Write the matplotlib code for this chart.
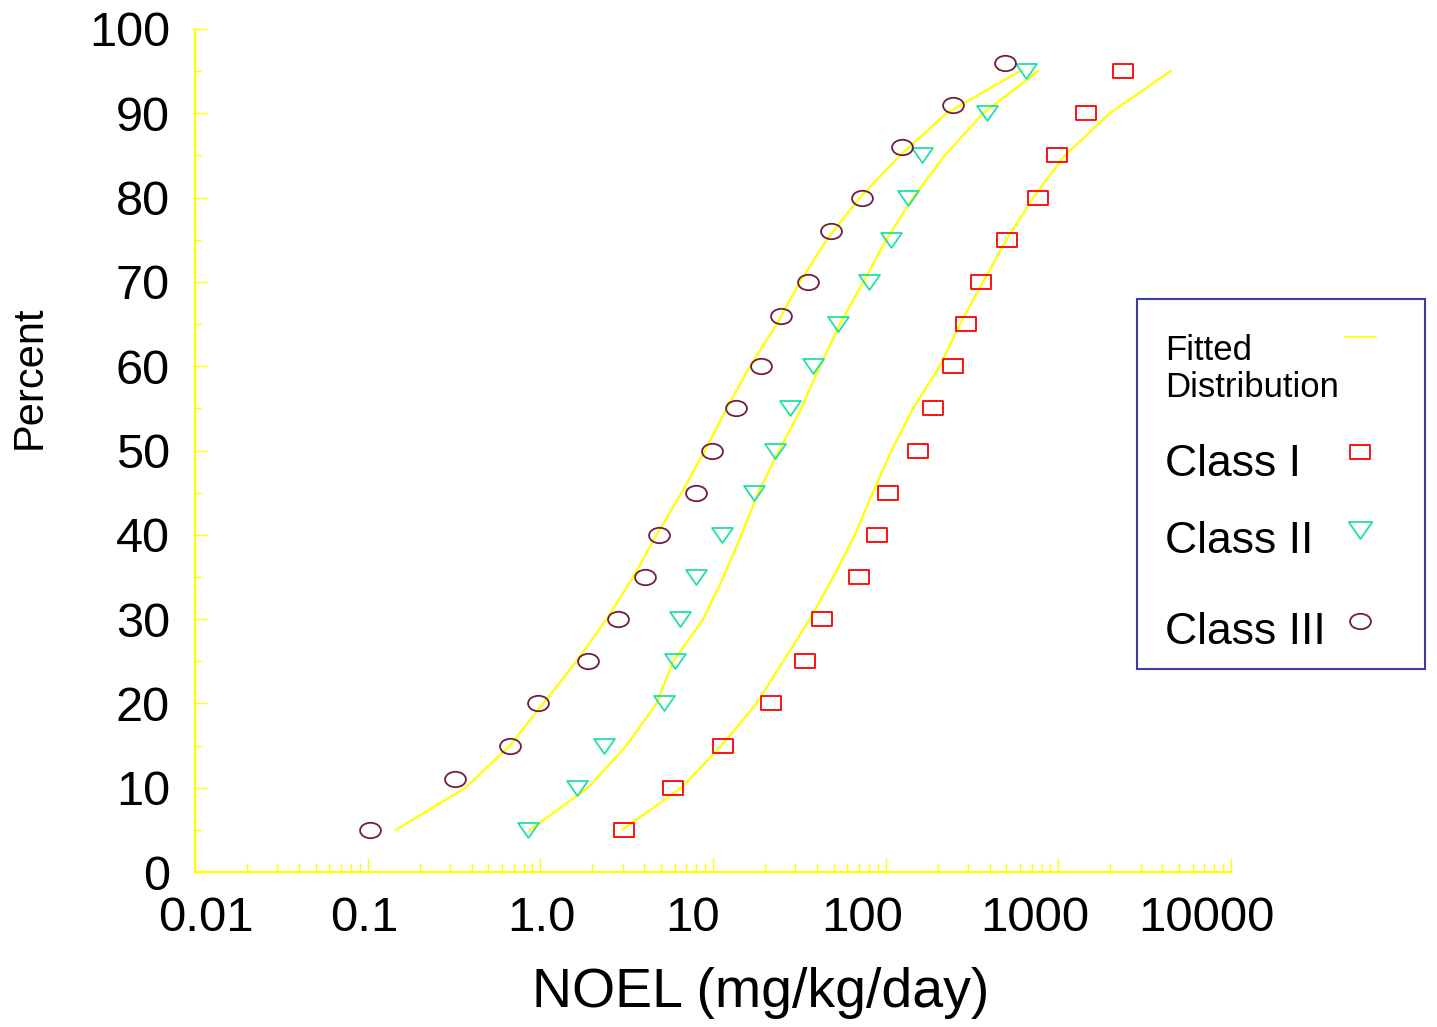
import numpy as np
import matplotlib
matplotlib.use("Agg")
import matplotlib.pyplot as plt
from matplotlib.path import Path
from matplotlib.lines import Line2D
from matplotlib.patches import Rectangle
from matplotlib.transforms import ScaledTranslation
from matplotlib.ticker import LogLocator, FixedLocator, FixedFormatter, NullFormatter, MultipleLocator

plt.rcParams['font.family'] = ['Liberation Sans', 'DejaVu Sans']

# ---------------- data ----------------
# Class I (squares)
class1_x = [3.06, 5.84, 11.4, 21.7, 34.1, 42.9, 70.0, 88.9, 103, 153, 188, 246, 292, 357, 505, 758, 984, 1437, 2372]
class1_y = [5, 10, 15, 20, 25, 30, 35, 40, 45, 50, 55, 60, 65, 70, 75, 80, 85, 90, 95]
# Class II (triangles)
class2_x = [0.844, 1.64, 2.34, 5.18, 6.02, 6.43, 7.96, 11.3, 17.2, 22.8, 27.9, 37.7, 53.1, 79.9, 107, 134, 163, 387, 646]
class2_y = [5, 10, 15, 20, 25, 30, 35, 40, 45, 50, 55, 60, 65, 70, 75, 80, 85, 90, 95]
# Class III (circles)
class3_x = [0.103, 0.320, 0.667, 0.965, 1.89, 2.80, 4.03, 4.86, 7.96, 9.81, 13.5, 18.9, 24.7, 35.3, 48.0, 72.5, 124, 244, 490]
class3_y = [5, 11, 15, 20, 25, 30, 35, 40, 45, 50, 55, 60, 66, 70, 76, 80, 86, 91, 96]

# Fitted distributions (percent levels)
fit_p = [5, 10, 15, 20, 25, 30, 35, 40, 45, 50, 55, 60, 65, 70, 75, 80, 85, 90, 95]
fit1_x = [2.98, 6.58, 11.2, 17.9, 25.5, 36.4, 49.7, 66.3, 84.3, 108, 144, 206, 269, 367, 501, 715, 1090, 1987, 4464]
fit2_x = [0.871, 1.89, 3.16, 4.71, 5.88, 8.78, 11.5, 14.6, 18.3, 24.1, 32.5, 41.6, 54.3, 74.1, 101, 144, 220, 367, 764]
fit3_x = [0.146, 0.369, 0.667, 1.04, 1.62, 2.42, 3.45, 4.71, 6.58, 8.98, 12.0, 16.4, 23.4, 31.9, 45.5, 70.9, 121, 225, 598]

x_ticks = [0.01, 0.1, 1.0, 10, 100, 1000, 10000]
x_tick_labels = ['0.01', '0.1', '1.0', '10', '100', '1000', '10000']
y_ticks = [0, 10, 20, 30, 40, 50, 60, 70, 80, 90, 100]

legend_labels = ['Fitted\nDistribution', 'Class I', 'Class II', 'Class III']

# ---------------- style ----------------
W, H = 1437, 1027
YEL = '#FFFF00'
RED = '#FF0000'
GRN = '#1FE0A8'
MAR = '#6E1E44'
BLUE = '#3C3CA6'

rect_m = Path([(-1, -0.72), (1, -0.72), (1, 0.72), (-1, 0.72), (-1, -0.72)],
              [Path.MOVETO, Path.LINETO, Path.LINETO, Path.LINETO, Path.CLOSEPOLY])
tri_m = Path([(-1, 0.72), (1, 0.72), (0, -0.72), (-1, 0.72)],
             [Path.MOVETO, Path.LINETO, Path.LINETO, Path.CLOSEPOLY])
uc = Path.unit_circle()
ell_m = Path(uc.vertices * np.array([1.0, 0.74]), uc.codes)

MS = 15.0
MEW = 1.3

fig = plt.figure(figsize=(W / 100, H / 100), dpi=100)
fig.patch.set_facecolor('white')
ax = fig.add_axes([195 / W, 1 - 872 / H, (1231 - 195) / W, (872 - 29) / H])

ax.plot(fit1_x, fit_p, color=YEL, lw=1.6, zorder=2)
ax.plot(fit2_x, fit_p, color=YEL, lw=1.6, zorder=2)
ax.plot(fit3_x, fit_p, color=YEL, lw=1.6, zorder=2)

ax.plot(class1_x, class1_y, ls='none', marker=rect_m, ms=MS, mfc='none', mec=RED, mew=MEW, zorder=3)
ax.plot(class2_x, class2_y, ls='none', marker=tri_m, ms=MS, mfc='none', mec=GRN, mew=MEW, zorder=3)
ax.plot(class3_x, class3_y, ls='none', marker=ell_m, ms=MS, mfc='none', mec=MAR, mew=MEW, zorder=3)

ax.set_xscale('log')
ax.set_xlim(0.01, 10000)
ax.set_ylim(0, 100)

for s in ['top', 'right']:
    ax.spines[s].set_visible(False)
for s in ['left', 'bottom']:
    ax.spines[s].set_color(YEL)
    ax.spines[s].set_linewidth(1.6)

ax.xaxis.set_major_locator(FixedLocator(x_ticks))
ax.xaxis.set_major_formatter(FixedFormatter(x_tick_labels))
ax.xaxis.set_minor_locator(LogLocator(base=10, subs=np.arange(2, 10)))
ax.xaxis.set_minor_formatter(NullFormatter())
ax.yaxis.set_major_locator(FixedLocator(y_ticks))
ax.yaxis.set_minor_locator(MultipleLocator(5))

ax.tick_params(axis='x', which='major', direction='in', length=10, width=1.0, color=YEL,
               labelsize=35.5, pad=17)
ax.tick_params(axis='x', which='minor', direction='in', length=6.5, width=1.0, color=YEL)
ax.tick_params(axis='y', which='major', direction='in', length=8.6, width=1.0, color=YEL,
               labelsize=35, pad=18)
ax.tick_params(axis='y', which='minor', direction='in', length=4.3, width=1.0, color=YEL)

# the original's tick labels sit slightly off their ticks (pixel offsets)
label_shift_px = [11, -3, 1, -20, -23, -24, -25]
fig.canvas.draw()
for lab, dx in zip(ax.get_xticklabels(), label_shift_px):
    lab.set_transform(lab.get_transform() + ScaledTranslation(dx / 100, 0, fig.dpi_scale_trans))

# axis titles
fig.text(761 / W, 1 - 993 / H, 'NOEL (mg/kg/day)', fontsize=40, ha='center', va='center')
fig.text(30 / W, 1 - 377 / H, 'Percent', fontsize=30, rotation=90, ha='center', va='center')

# ---------------- legend (manual) ----------------
def fx(p):
    return p / W

def fy(p):
    return 1 - p / H

fig.add_artist(Rectangle((fx(1137), fy(669)), (1425 - 1137) / W, (669 - 299) / H,
                         transform=fig.transFigure, fill=True, facecolor='white',
                         edgecolor=BLUE, lw=1.5, zorder=5))
fig.text(fx(1165), fy(397), legend_labels[0], fontsize=25, ha='left', va='baseline', zorder=6,
         linespacing=1.15)
fig.text(fx(1165), fy(476), legend_labels[1], fontsize=32, ha='left', va='baseline', zorder=6)
fig.text(fx(1165), fy(553), legend_labels[2], fontsize=32, ha='left', va='baseline', zorder=6)
fig.text(fx(1165), fy(644), legend_labels[3], fontsize=32, ha='left', va='baseline', zorder=6)

fig.add_artist(Line2D([fx(1345), fx(1376)], [fy(337), fy(337)], transform=fig.transFigure,
                      color=YEL, lw=1.2, zorder=6))
fig.add_artist(Line2D([fx(1360)], [fy(452)], transform=fig.transFigure, ls='none',
                      marker=rect_m, ms=MS, mfc='none', mec=RED, mew=MEW, zorder=6))
fig.add_artist(Line2D([fx(1360)], [fy(530)], transform=fig.transFigure, ls='none',
                      marker=tri_m, ms=MS + 2, mfc='none', mec=GRN, mew=MEW, zorder=6))
fig.add_artist(Line2D([fx(1360)], [fy(621)], transform=fig.transFigure, ls='none',
                      marker=ell_m, ms=MS, mfc='none', mec=MAR, mew=MEW, zorder=6))

fig.savefig('out.png', dpi=100, facecolor='white')
